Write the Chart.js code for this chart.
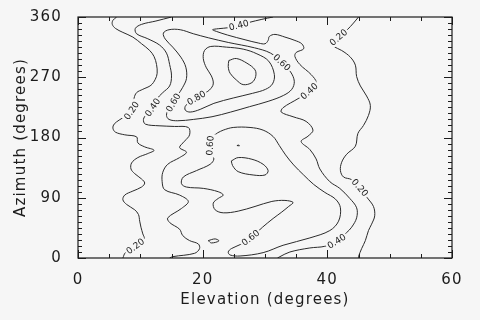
<!DOCTYPE html>
<html lang="en">
<head>
<meta charset="UTF-8">
<title>Azimuth vs Elevation contours</title>
<script src="https://cdn.jsdelivr.net/npm/chart.js"></script>
<style>
  body { margin: 0; background: #f6f6f6; }
  #wrap { width: 480px; height: 320px; }
</style>
</head>
<body>
<div id="wrap"><canvas id="contourChart" width="480" height="320"></canvas></div>
<script>
// axis ticks
const xTicks = [0, 20, 40, 60];
const yTicks = [0, 90, 180, 270, 360];
const xMinorStep = 5;
const yMinorStep = 9;

// contour lines, points are [elevation, azimuth]
const c20Left = [[6.2,360],[5.6,355],[5.5,349],[6.0,343],[7.2,337],[8.8,330],[10.2,320],[11.5,310],[12.2,301],[12.6,289],[12.7,276],[12.4,267],[11.7,258],[10.4,252],[9.4,247],[9.0,239],[8.9,230],[8.6,220],[7.6,212],[6.6,206],[5.8,200],[5.6,194],[6.0,188],[7.5,184],[9.4,181],[9.6,172],[10.7,166],[12.2,161],[11.2,156],[9.6,150],[8.6,142],[8.5,133],[9.1,126],[10.2,118],[10.7,112],[10.2,106],[8.8,100],[7.5,94],[7.2,87],[7.8,80],[9.1,72],[9.7,65],[9.9,55],[10.1,46],[10.4,36],[10.6,29],[9.2,17.5],[7.6,8],[7.2,0]];

const c40Left = [[15.0,360],[12.5,354],[10.2,349],[9.2,343],[9.4,335],[11.2,327.5],[13.1,318],[14.2,306],[14.7,289],[15.0,272],[14.7,257],[13.6,247],[12.6,237],[12.0,225],[11.0,215],[10.5,207],[10.8,200],[13.0,197.5],[15.5,196.5],[17.7,195],[17.9,184],[17.1,174.5],[16.3,165],[17.4,158],[16.3,150],[14.4,140],[13.6,128],[13.5,114],[13.9,102],[16.3,94],[17.7,84.5],[16.6,74],[14.4,60],[14.7,53],[16.3,43],[16.8,33.5],[17.9,26],[19.3,21],[19.5,14],[18.7,7],[15.2,2],[14.7,0]];

const c60Upper = [[15.3,232],[16.0,243],[16.8,255],[17.4,268],[17.3,285],[16.5,300],[15.2,315],[14.0,327],[13.7,336],[14.6,341],[16.4,341],[18.5,335],[20.9,329],[24.1,322],[28.3,314],[30.9,306],[32.7,292],[34.1,278],[34.7,264],[34.3,252],[33.0,243],[30.5,234],[27.5,226],[24.5,218],[21.5,211],[18.5,207],[16.0,205],[14.6,207],[14.2,213],[14.5,222],[15.3,232]];

const c80Upper = [[19.0,239],[20.3,246],[21.1,251],[21.7,260],[21.4,272],[20.6,284],[20.1,298],[20.3,310],[21.3,316],[23.8,315],[26.5,312],[28.7,305],[30.6,294],[31.5,274],[31.2,260],[30.1,252],[28.0,246],[24.9,239],[21.8,231],[19.6,222],[18.0,218],[17.2,221],[17.3,228],[19.0,239]];

const cPeakUpper = [[24.2,295],[25.4,298],[27.1,291],[28.4,281],[28.5,271],[27.9,262],[26.5,259],[25.4,266],[24.4,276],[24.1,286],[24.2,295]];

const c40Right = [[31.3,360],[29.5,356.5],[27.5,352],[25.8,347.5],[24.1,344],[22.5,342.5],[21.6,341],[22.2,338.5],[24.0,333],[26.8,326],[29.0,321],[30.0,320],[30.5,325],[30.7,331],[31.6,334],[33.2,330],[34.8,325],[35.9,320],[36.2,312.5],[35.0,307],[34.8,301],[35.6,289],[37.4,274],[38.2,262],[37.1,249],[35.3,238],[32.9,224.5],[32.6,218],[34.5,211],[36.6,204],[37.7,191],[36.9,182],[35.8,174],[37.2,162],[38.2,148],[38.8,133],[40.4,114],[42.0,104],[43.6,89],[44.7,75],[44.7,60],[43.9,46],[43.1,38],[41.5,25],[39.6,17.5],[37.2,15],[34.0,9],[32.4,2],[32.0,0]];

const c20Right = [[45.0,360],[44.2,351],[43.2,341],[41.8,329.5],[40.6,320],[41.0,316],[42.3,310],[43.7,300],[44.5,288],[44.7,271],[45.3,257],[46.3,242],[46.9,228],[46.6,213],[45.8,198],[44.9,186],[44.5,167],[43.1,155],[42.3,143],[42.1,130.5],[42.6,121],[43.9,117],[45.2,105],[46.4,90],[47.4,77],[47.6,63],[47.1,50.5],[46.6,41],[46.1,26],[45.5,14],[45.0,2],[45.0,0]];

const c60Lower = [[22.4,187],[21.5,180],[21.2,168],[21.3,156],[21.8,148],[21.2,140],[19.0,130.5],[16.9,121],[16.6,111],[17.4,106],[20.1,104],[22.5,99],[23.3,94],[22.5,89],[21.7,82],[22.0,72],[23.3,67.5],[25.7,70],[28.4,77],[31.1,84.5],[33.2,86],[34.5,83],[33.8,77],[32.6,68],[31.3,59],[29.6,46],[27.7,30],[26.1,20.4],[24.6,14],[24.1,9],[24.4,4.5],[26.0,3],[29.7,8],[32.9,19],[37.2,30],[40.4,41],[41.8,55],[42.1,75],[41.3,88],[39.6,98],[37.8,110],[36.2,124],[34.6,139],[33.3,154],[32.3,168],[31.3,181.5],[29.7,191],[27.6,195],[24.9,195],[23.3,191],[22.4,187]];

const cPeakLower = [[24.6,145],[25.7,150],[27.9,147.5],[29.7,140],[30.5,130.5],[30.0,124],[28.1,124],[25.7,129],[24.8,138],[24.6,145]];
const cSpeck = [[25.5,168],[25.8,168.6],[25.9,167.6],[25.5,168]];
const cIsland = [[20.9,26],[22.0,28.5],[22.6,25.5],[21.4,22.5],[20.9,26]];

const contourLines = [c20Left, c40Left, c60Upper, c80Upper, cPeakUpper, c40Right, c20Right, c60Lower, cPeakLower, cSpeck, cIsland];

// inline level labels, placed on their line
const contourLabels = [
  { text: '0.20', line: c20Left, x: 8.6, y: 220 },
  { text: '0.20', line: c20Left, x: 9.2, y: 17.5 },
  { text: '0.40', line: c40Left, x: 12.0, y: 225 },
  { text: '0.60', line: c60Upper, x: 15.3, y: 232 },
  { text: '0.60', line: c60Upper, x: 32.7, y: 292 },
  { text: '0.80', line: c80Upper, x: 19.0, y: 239 },
  { text: '0.40', line: c40Right, x: 25.8, y: 347.5 },
  { text: '0.40', line: c40Right, x: 37.1, y: 249 },
  { text: '0.40', line: c40Right, x: 41.5, y: 25 },
  { text: '0.20', line: c20Right, x: 41.8, y: 329.5 },
  { text: '0.20', line: c20Right, x: 45.2, y: 105 },
  { text: '0.60', line: c60Lower, x: 21.2, y: 168 },
  { text: '0.60', line: c60Lower, x: 27.7, y: 30 }
];

const bg = '#f6f6f6';
const ink = '#1c1c1c';
const lineInk = '#2b2b2b';

Chart.defaults.font.family = 'DejaVu Sans';

const backgroundPlugin = {
  id: 'bgFill',
  beforeDraw(chart) {
    const ctx = chart.ctx;
    ctx.save();
    ctx.fillStyle = bg;
    ctx.fillRect(0, 0, chart.width, chart.height);
    ctx.restore();
    // wider lettering like the original plot font
    ctx.letterSpacing = '1.2px';
  }
};

const labelPlugin = {
  id: 'contourLabels',
  afterDatasetsDraw(chart) {
    const { ctx, scales: { x, y } } = chart;
    ctx.save();
    ctx.letterSpacing = '0px';
    ctx.font = '9px "DejaVu Sans"';
    ctx.textAlign = 'center';
    ctx.textBaseline = 'middle';
    contourLabels.forEach(lab => {
      const px = x.getPixelForValue(lab.x);
      const py = y.getPixelForValue(lab.y);
      // nearest vertex gives the local direction of the line
      let best = 0, bestD = Infinity;
      lab.line.forEach((p, i) => {
        const d = Math.hypot(x.getPixelForValue(p[0]) - px, y.getPixelForValue(p[1]) - py);
        if (d < bestD) { bestD = d; best = i; }
      });
      const a = lab.line[Math.max(best - 1, 0)];
      const b = lab.line[Math.min(best + 1, lab.line.length - 1)];
      let ang = Math.atan2(y.getPixelForValue(b[1]) - y.getPixelForValue(a[1]),
                           x.getPixelForValue(b[0]) - x.getPixelForValue(a[0]));
      while (ang > Math.PI / 2) ang -= Math.PI;
      while (ang <= -Math.PI / 2) ang += Math.PI;
      if (ang > 75 * Math.PI / 180) ang -= Math.PI;
      const w = ctx.measureText(lab.text).width;
      ctx.save();
      ctx.translate(px, py);
      ctx.rotate(ang);
      ctx.fillStyle = bg;
      ctx.fillRect(-w / 2 - 1.5, -5, w + 3, 10);
      ctx.fillStyle = ink;
      ctx.fillText(lab.text, 0, 0.5);
      ctx.restore();
    });
    ctx.restore();
  }
};

const framePlugin = {
  id: 'frameTicks',
  afterDatasetsDraw(chart) {
    const { ctx, chartArea: a, scales: { x, y } } = chart;
    ctx.save();
    ctx.strokeStyle = ink;
    ctx.lineWidth = 1.2;
    ctx.strokeRect(a.left, a.top, a.right - a.left, a.bottom - a.top);
    ctx.lineWidth = 1;
    ctx.beginPath();
    for (let v = x.min; v <= x.max; v += xMinorStep) {
      const px = Math.round(x.getPixelForValue(v)) + 0.5;
      const len = xTicks.includes(v) ? 8 : 4;
      ctx.moveTo(px, a.bottom); ctx.lineTo(px, a.bottom - len);
      ctx.moveTo(px, a.top); ctx.lineTo(px, a.top + len);
    }
    for (let v = y.min; v <= y.max; v += yMinorStep) {
      const py = Math.round(y.getPixelForValue(v)) + 0.5;
      const len = yTicks.includes(v) ? 8 : 4;
      ctx.moveTo(a.left, py); ctx.lineTo(a.left + len, py);
      ctx.moveTo(a.right, py); ctx.lineTo(a.right - len, py);
    }
    ctx.stroke();
    ctx.restore();
  }
};

new Chart(document.getElementById('contourChart'), {
  type: 'scatter',
  data: {
    datasets: contourLines.map(line => ({
      data: line.map(p => ({ x: p[0], y: p[1] })),
      showLine: true,
      borderColor: lineInk,
      borderWidth: 1,
      pointRadius: 0,
      tension: 0.35,
      fill: false
    }))
  },
  options: {
    responsive: false,
    animation: false,
    events: [],
    layout: { padding: { left: 0, right: 28, top: 11, bottom: 0 } },
    plugins: { legend: { display: false }, tooltip: { enabled: false } },
    scales: {
      x: {
        type: 'linear', min: 0, max: 60,
        afterBuildTicks: s => { s.ticks = xTicks.map(v => ({ value: v })); },
        afterFit: s => { s.height = 62; },
        grid: { display: false }, border: { display: false },
        ticks: { color: ink, font: { size: 15 }, padding: 5, maxRotation: 0 },
        title: { display: true, text: 'Elevation (degrees)', color: ink, font: { size: 15 }, padding: { top: 0, bottom: 11 } }
      },
      y: {
        type: 'linear', min: 0, max: 360,
        afterBuildTicks: s => { s.ticks = yTicks.map(v => ({ value: v })); },
        afterFit: s => { s.width = 78; },
        grid: { display: false }, border: { display: false },
        ticks: { color: ink, font: { size: 15 }, padding: 8 },
        title: { display: true, text: 'Azimuth (degrees)', color: ink, font: { size: 15 }, padding: { top: 12, bottom: 0 } }
      }
    }
  },
  plugins: [backgroundPlugin, labelPlugin, framePlugin]
});
</script>
</body>
</html>
